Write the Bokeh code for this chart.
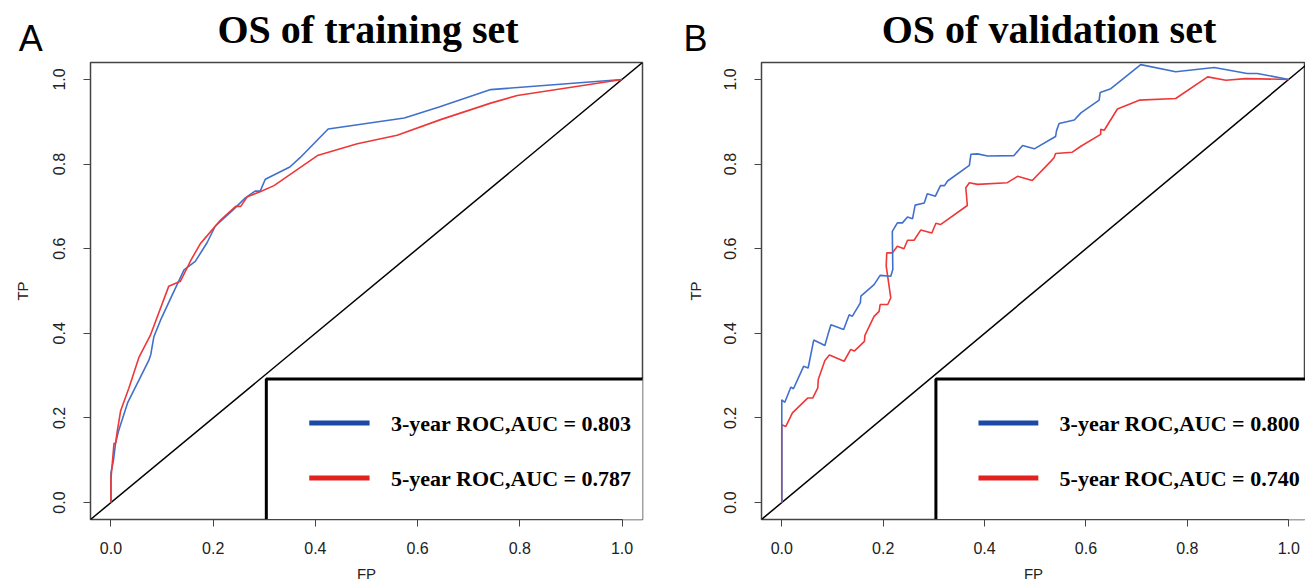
import math
from bokeh.plotting import figure
from bokeh.layouts import row
from bokeh.models import Range1d, FixedTicker, PrintfTickFormatter, Label, Slope
from bokeh.core.properties import value
from bokeh.embed import file_html
from bokeh.resources import INLINE

# ---------------- data ----------------
ticks = [0.0, 0.2, 0.4, 0.6, 0.8, 1.0]

titleA = "OS of training set"
titleB = "OS of validation set"
legendA = ["3-year ROC,AUC = 0.803", "5-year ROC,AUC = 0.787"]
legendB = ["3-year ROC,AUC = 0.800", "5-year ROC,AUC = 0.740"]

fpA3 = [0.0, 0.0, 0.005, 0.009, 0.015, 0.033, 0.055, 0.074, 0.078, 0.084, 0.097, 0.12, 0.143, 0.165,
        0.188, 0.204, 0.24, 0.263, 0.282, 0.292, 0.302, 0.35, 0.37, 0.425, 0.574, 0.642, 0.743, 1.0]
tpA3 = [0.0, 0.07, 0.10, 0.14, 0.17, 0.237, 0.29, 0.336, 0.35, 0.392, 0.431, 0.491, 0.55, 0.57,
        0.614, 0.653, 0.693, 0.72, 0.736, 0.736, 0.764, 0.793, 0.815, 0.883, 0.909, 0.935, 0.976, 1.0]

fpA5 = [0.0, 0.0, 0.006, 0.009, 0.012, 0.019, 0.035, 0.055, 0.077, 0.113, 0.136, 0.156, 0.175, 0.214,
        0.244, 0.254, 0.267, 0.293, 0.319, 0.404, 0.482, 0.56, 0.645, 0.743, 0.795, 1.0]
tpA5 = [0.0, 0.056, 0.14, 0.14, 0.166, 0.217, 0.27, 0.344, 0.395, 0.511, 0.523, 0.572, 0.612, 0.667,
        0.70, 0.70, 0.723, 0.735, 0.749, 0.82, 0.848, 0.868, 0.905, 0.944, 0.962, 1.0]

fpB3 = [0.0, 0.0, 0.006, 0.018, 0.023, 0.043, 0.052, 0.063, 0.085, 0.092, 0.097, 0.122, 0.133, 0.139,
        0.155, 0.156, 0.182, 0.194, 0.215, 0.219, 0.218, 0.228, 0.238, 0.248, 0.258, 0.263, 0.281,
        0.287, 0.303, 0.313, 0.321, 0.327, 0.370, 0.373, 0.386, 0.406, 0.458, 0.475, 0.498, 0.540,
        0.542, 0.547, 0.577, 0.590, 0.626, 0.628, 0.649, 0.708, 0.777, 0.853, 0.918, 0.938, 1.0]
tpB3 = [0.0, 0.243, 0.237, 0.273, 0.269, 0.322, 0.318, 0.384, 0.371, 0.401, 0.420, 0.409, 0.444, 0.440,
        0.472, 0.488, 0.515, 0.537, 0.535, 0.551, 0.641, 0.661, 0.661, 0.675, 0.671, 0.703, 0.708,
        0.730, 0.724, 0.749, 0.749, 0.760, 0.797, 0.823, 0.824, 0.819, 0.820, 0.844, 0.836, 0.865,
        0.879, 0.896, 0.904, 0.921, 0.951, 0.969, 0.978, 1.035, 1.018, 1.028, 1.014, 1.014, 1.0]

fpB5 = [0.0, 0.0, 0.008, 0.021, 0.051, 0.061, 0.071, 0.072, 0.085, 0.094, 0.123, 0.136, 0.143, 0.163,
        0.164, 0.182, 0.192, 0.194, 0.209, 0.215, 0.206, 0.207, 0.218, 0.228, 0.241, 0.248, 0.261,
        0.274, 0.296, 0.304, 0.313, 0.366, 0.363, 0.370, 0.386, 0.445, 0.465, 0.494, 0.531, 0.537,
        0.540, 0.573, 0.590, 0.629, 0.629, 0.636, 0.662, 0.705, 0.777, 0.840, 0.876, 0.915, 1.0]
tpB5 = [0.0, 0.184, 0.180, 0.212, 0.247, 0.247, 0.271, 0.291, 0.336, 0.349, 0.334, 0.362, 0.358, 0.381,
        0.395, 0.440, 0.452, 0.468, 0.468, 0.484, 0.559, 0.590, 0.590, 0.606, 0.600, 0.620, 0.620,
        0.644, 0.637, 0.660, 0.657, 0.702, 0.744, 0.756, 0.752, 0.756, 0.771, 0.761, 0.807, 0.815,
        0.825, 0.828, 0.842, 0.870, 0.882, 0.880, 0.930, 0.951, 0.955, 1.006, 0.998, 1.002, 1.0]

# ---------------- styles ----------------
BLUE_CURVE = "#4170cc"
RED_CURVE = "#ee3838"
BLUE_LEG = "#1b49a6"
RED_LEG = "#e3211f"
SERIF = "Liberation Serif"
SANS = "Liberation Sans"


def make_panel(title, title_x, letter, letter_x, tp_x, fp3, tp3, fp5, tp5, labels, x_end, fw,
               left_border, right_border, red_on_top):
    p = figure(frame_width=fw, frame_height=457,
               x_range=Range1d(-0.04, x_end), y_range=Range1d(-0.04, 1.04),
               min_border_left=left_border, min_border_right=right_border,
               min_border_top=62, min_border_bottom=63,
               output_backend="svg", toolbar_location=None,
               background_fill_color="white", border_fill_color="white")
    p.grid.visible = False
    p.outline_line_color = "#444444"
    p.outline_line_width = 1.5

    # chart title: a label in the top side panel, placed with the plot's own scales
    p.add_layout(Label(x=title_x, y=1.119, text=title,
                       text_font=SERIF, text_font_style="bold", text_font_size="40px",
                       text_color="black", text_align="center", text_baseline="alphabetic"),
                 "above")

    for ax in (p.xaxis[0], p.yaxis[0]):
        ax.ticker = FixedTicker(ticks=ticks)
        ax.formatter = PrintfTickFormatter(format="%.1f")
        ax.bounds = (0, 1)
        ax.major_tick_in = 0
        ax.major_tick_out = 7
        ax.minor_tick_in = 0
        ax.minor_tick_out = 0
        ax.axis_line_color = "#444444"
        ax.major_tick_line_color = "#444444"
        ax.major_label_text_font = SANS
        ax.major_label_text_font_size = "16px"
        ax.major_label_text_color = "#222222"
        ax.axis_label_text_font = SANS
        ax.axis_label_text_font_size = "15px"
        ax.axis_label_text_font_style = "normal"
        ax.axis_label_text_color = "#222222"
    p.xaxis.axis_label = "FP"
    p.xaxis.major_label_standoff = 15
    p.xaxis.axis_label_standoff = 8
    p.yaxis.major_label_orientation = "vertical"
    p.yaxis.major_label_standoff = 18

    diag = Slope(gradient=1, y_intercept=0, line_color="black", line_width=1.5, level="underlay")
    p.add_layout(diag)

    if red_on_top:
        p.line(fp3, tp3, line_color=BLUE_CURVE, line_width=1.6)
        p.line(fp5, tp5, line_color=RED_CURVE, line_width=1.6)
    else:
        p.line(fp5, tp5, line_color=RED_CURVE, line_width=1.6)
        p.line(fp3, tp3, line_color=BLUE_CURVE, line_width=1.6)

    # legend box (R style, bottom-right)
    p.quad(left=[0.304], right=[1.06], bottom=[-0.05], top=[0.292],
           fill_color="white", line_color="black", line_width=3)
    leg_y = [0.188, 0.058]
    p.segment(x0=[0.388, 0.388], x1=[0.506, 0.506], y0=leg_y, y1=leg_y,
              line_color=[BLUE_LEG, RED_LEG], line_width=5)
    p.text(x=[0.548, 0.548], y=leg_y, text=labels,
           text_font=value(SERIF), text_font_style="bold", text_font_size="22px",
           text_color="black", text_align="left", text_baseline="middle")

    # y-axis title and panel letter live in the left side panel (not clipped to the frame)
    p.add_layout(Label(x=tp_x, y=0.5, text="TP", angle=math.pi / 2,
                       text_font=SANS, text_font_size="15px", text_color="#222222",
                       text_align="center", text_baseline="middle"), "left")
    p.add_layout(Label(x=letter_x, y=1.097, text=letter,
                       text_font=SANS, text_font_size="36px", text_color="black",
                       text_align="center", text_baseline="middle"), "left")
    return p


pA = make_panel(titleA, 0.503, "A", -0.157, -0.173, fpA3, tpA3, fpA5, tpA5, legendA,
                1.04, 552, 90, 8, True)
pB = make_panel(titleB, 0.527, "B", -0.170, -0.170, fpB3, tpB3, fpB5, tpB5, legendB,
                1.033, 544, 111, 0, False)

layout = row(pA, pB)
open("out.html", "w").write(file_html(layout, INLINE))
